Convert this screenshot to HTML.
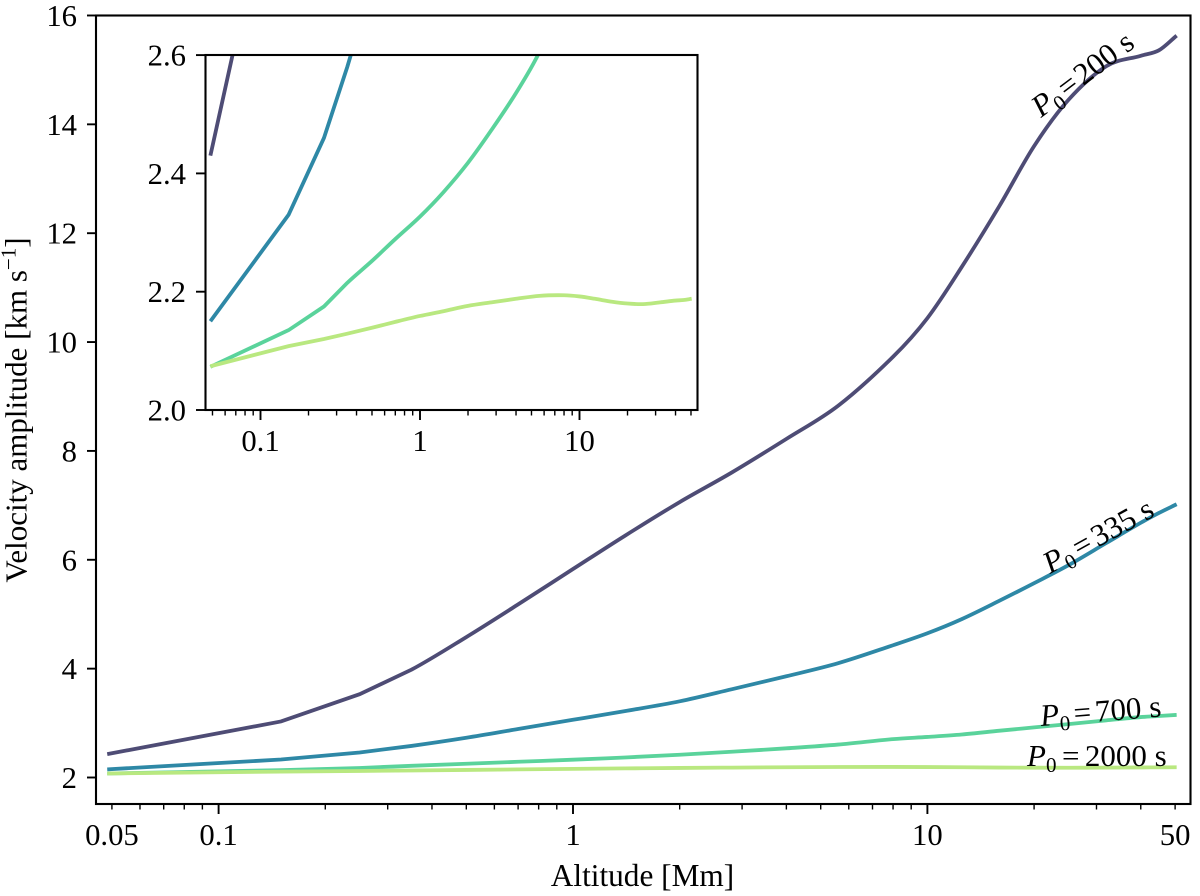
<!DOCTYPE html>
<html lang="en">
<head>
<meta charset="utf-8">
<title>Velocity amplitude vs altitude</title>
<style>
  html, body { margin: 0; padding: 0; background: #fff; }
  svg { display: block; font-family: "Liberation Serif", serif; fill: #000; }
</style>
</head>
<body>
<svg id="chart" xmlns="http://www.w3.org/2000/svg" width="1200" height="896" viewBox="0 0 1200 896">
  <defs>
    <clipPath id="main-clip"><rect x="96" y="15.5" width="1094.5" height="788.5"/></clipPath>
    <clipPath id="inset-clip"><rect x="205.5" y="55" width="492" height="355"/></clipPath>
  </defs>
  <g id="main-axes"></g>
  <g id="inset-axes"></g>
  <text x="642.5" y="886" font-size="31.3" text-anchor="middle">Altitude [Mm]</text>
  <text transform="translate(26.5 410) rotate(-90)" font-size="31" text-anchor="middle">Velocity amplitude [km s<tspan font-size="21" dy="-11">−1</tspan><tspan dy="11">]</tspan></text>
  <text transform="translate(1041 118) rotate(-37)" font-size="31"><tspan font-style="italic">P</tspan><tspan font-size="21" dy="6">0</tspan><tspan dy="-6" dx="3">=</tspan><tspan dx="3">200 s</tspan></text>
  <text transform="translate(1050 574) rotate(-29)" font-size="31"><tspan font-style="italic">P</tspan><tspan font-size="21" dy="6">0</tspan><tspan dy="-6" dx="4">=</tspan><tspan dx="4">335 s</tspan></text>
  <text transform="translate(1041 726) rotate(-4.5)" font-size="31"><tspan font-style="italic">P</tspan><tspan font-size="21" dy="6">0</tspan><tspan dy="-6" dx="4">=</tspan><tspan dx="4">700 s</tspan></text>
  <text transform="translate(1027 766)" font-size="31"><tspan font-style="italic">P</tspan><tspan font-size="21" dy="6">0</tspan><tspan dy="-6" dx="5.5">=</tspan><tspan dx="5.5">2000 s</tspan></text>
</svg>
<script>
const altitudes = [0.0485, 0.15, 0.25, 0.35, 0.5, 0.7, 1, 1.4, 2, 2.8, 4, 5.6, 8, 10, 12.5, 16, 20, 25, 32, 40, 45, 50.5];
const velocity200 = [2.43, 3.03, 3.53, 3.98, 4.58, 5.18, 5.83, 6.44, 7.06, 7.60, 8.22, 8.83, 9.73, 10.44, 11.38, 12.51, 13.60, 14.45, 15.07, 15.26, 15.36, 15.63];
const velocity335 = [2.15, 2.33, 2.46, 2.58, 2.73, 2.89, 3.06, 3.22, 3.40, 3.62, 3.86, 4.10, 4.43, 4.65, 4.91, 5.25, 5.57, 5.90, 6.31, 6.68, 6.86, 7.02];
const velocity700 = [2.073, 2.135, 2.175, 2.215, 2.252, 2.289, 2.327, 2.368, 2.418, 2.473, 2.536, 2.605, 2.705, 2.745, 2.79, 2.86, 2.92, 2.98, 3.05, 3.11, 3.13, 3.15];
const velocity2000 = [2.074, 2.108, 2.12, 2.129, 2.139, 2.149, 2.159, 2.167, 2.176, 2.182, 2.188, 2.193, 2.194, 2.192, 2.188, 2.183, 2.18, 2.179, 2.182, 2.185, 2.186, 2.188];

const seriesNames = ["p0-200", "p0-335", "p0-700", "p0-2000"];
const seriesColors = ["#4e4c75", "#2e88a6", "#5ad39b", "#b9e880"];

const mainYTicks = [2, 4, 6, 8, 10, 12, 14, 16];
const mainXMajorTicks = [0.1, 1, 10];
const mainXMinorTicks = [0.05, 0.06, 0.07, 0.08, 0.09, 0.2, 0.3, 0.4, 0.5, 0.6, 0.7, 0.8, 0.9, 2, 3, 4, 5, 6, 7, 8, 9, 20, 30, 40, 50];
const mainXLabelValues = [0.05, 0.1, 1, 10, 50];
const mainXLabels = ["0.05", "0.1", "1", "10", "50"];

const insetYTicks = [2.0, 2.2, 2.4, 2.6];
const insetYLabels = ["2.0", "2.2", "2.4", "2.6"];
const insetXMajorTicks = [0.1, 1, 10];
const insetXMinorTicks = [0.05, 0.06, 0.07, 0.08, 0.09, 0.2, 0.3, 0.4, 0.5, 0.6, 0.7, 0.8, 0.9, 2, 3, 4, 5, 6, 7, 8, 9, 20, 30, 40, 50];
const insetXLabels = ["0.1", "1", "10"];

const SVGNS = "http://www.w3.org/2000/svg";

function xMain(a) { return 573 + 354.4 * Math.log10(a); }
function yMain(v) { return 777.5 - (v - 2) * 54.43; }
function xInset(a) { return 420 + 159.5 * Math.log10(a); }
function yInset(v) { return 410 - (v - 2) * 591.5; }

function addLine(parent, x1, y1, x2, y2, width) {
  const el = document.createElementNS(SVGNS, "line");
  el.setAttribute("x1", x1);
  el.setAttribute("y1", y1);
  el.setAttribute("x2", x2);
  el.setAttribute("y2", y2);
  el.setAttribute("stroke", "#000");
  el.setAttribute("stroke-width", width);
  parent.appendChild(el);
  return el;
}

function addText(parent, x, y, content, anchor) {
  const el = document.createElementNS(SVGNS, "text");
  el.setAttribute("x", x);
  el.setAttribute("y", y);
  el.setAttribute("font-size", "30.7");
  el.setAttribute("text-anchor", anchor);
  el.textContent = content;
  parent.appendChild(el);
  return el;
}

/* Straight segments through the three lowest grid intervals (the kinks are in the
   source curves), smooth cubic segments from there on. */
function buildPath(values, xFn, yFn) {
  const px = altitudes.map(xFn);
  const py = values.map(yFn);
  const slope = function (i) {
    const a = Math.max(i - 1, 0);
    const b = Math.min(i + 1, px.length - 1);
    return (py[b] - py[a]) / (px[b] - px[a]);
  };
  let d = "M" + px[0].toFixed(2) + " " + py[0].toFixed(2);
  for (let i = 1; i < px.length; i++) {
    if (i <= 3) {
      d += "L" + px[i].toFixed(2) + " " + py[i].toFixed(2);
    } else {
      const h = (px[i] - px[i - 1]) / 3;
      const c1x = px[i - 1] + h;
      const c1y = py[i - 1] + slope(i - 1) * h;
      const c2x = px[i] - h;
      const c2y = py[i] - slope(i) * h;
      d += "C" + c1x.toFixed(2) + " " + c1y.toFixed(2) + " " + c2x.toFixed(2) + " " + c2y.toFixed(2) + " " + px[i].toFixed(2) + " " + py[i].toFixed(2);
    }
  }
  return d;
}

function drawSeries(parent, prefix, clipId, xFn, yFn) {
  const allValues = [velocity200, velocity335, velocity700, velocity2000];
  const order = [0, 1, 2, 3];
  order.forEach(function (k) {
    const path = document.createElementNS(SVGNS, "path");
    
    
    path.setAttribute("d", buildPath(allValues[k], xFn, yFn));
    path.setAttribute("fill", "none");
    path.setAttribute("stroke", seriesColors[k]);
    path.setAttribute("stroke-width", "3.8");
    path.setAttribute("clip-path", "url(#" + clipId + ")");
    parent.appendChild(path);
  });
}

function drawFrame(parent, prefix, left, top, right, bottom, color) {
  const rect = document.createElementNS(SVGNS, "rect");
  
  
  rect.setAttribute("x", left);
  rect.setAttribute("y", top);
  rect.setAttribute("width", right - left);
  rect.setAttribute("height", bottom - top);
  rect.setAttribute("fill", "none");
  rect.setAttribute("stroke", color);
  rect.setAttribute("stroke-width", "2.1");
  parent.appendChild(rect);
}

/* main axes */
const mainGroup = document.getElementById("main-axes");
drawSeries(mainGroup, "main", "main-clip", xMain, yMain);
drawFrame(mainGroup, "main", 96, 15.5, 1190.5, 804, "#000");

mainYTicks.forEach(function (v) {
  const tick = addLine(mainGroup, 87, yMain(v), 96, yMain(v), 1.9);
  
  
  const label = addText(mainGroup, 77, yMain(v) + 10.5, String(v), "end");
  
  
});
mainXMajorTicks.forEach(function (a) {
  const tick = addLine(mainGroup, xMain(a), 804, xMain(a), 814, 1.9);
  
  
});
mainXMinorTicks.forEach(function (a) {
  const tick = addLine(mainGroup, xMain(a), 804, xMain(a), 809.5, 1.4);
  
  
});
mainXLabelValues.forEach(function (a, i) {
  const label = addText(mainGroup, xMain(a), 845, mainXLabels[i], "middle");
  
  
});

/* inset axes */
const insetGroup = document.getElementById("inset-axes");
drawSeries(insetGroup, "inset", "inset-clip", xInset, yInset);
drawFrame(insetGroup, "inset", 205.5, 55, 697.5, 410, "#000");

insetYTicks.forEach(function (v, i) {
  const tick = addLine(insetGroup, 196, yInset(v), 205.5, yInset(v), 1.9);
  
  
  const label = addText(insetGroup, 186, yInset(v) + 10.5, insetYLabels[i], "end");
  
  
});
insetXMajorTicks.forEach(function (a, i) {
  const tick = addLine(insetGroup, xInset(a), 410, xInset(a), 420, 1.9);
  
  
  const label = addText(insetGroup, xInset(a), 451, insetXLabels[i], "middle");
  
  
});
insetXMinorTicks.forEach(function (a) {
  const tick = addLine(insetGroup, xInset(a), 410, xInset(a), 415.5, 1.4);
  
  
});
</script>
</body>
</html>
